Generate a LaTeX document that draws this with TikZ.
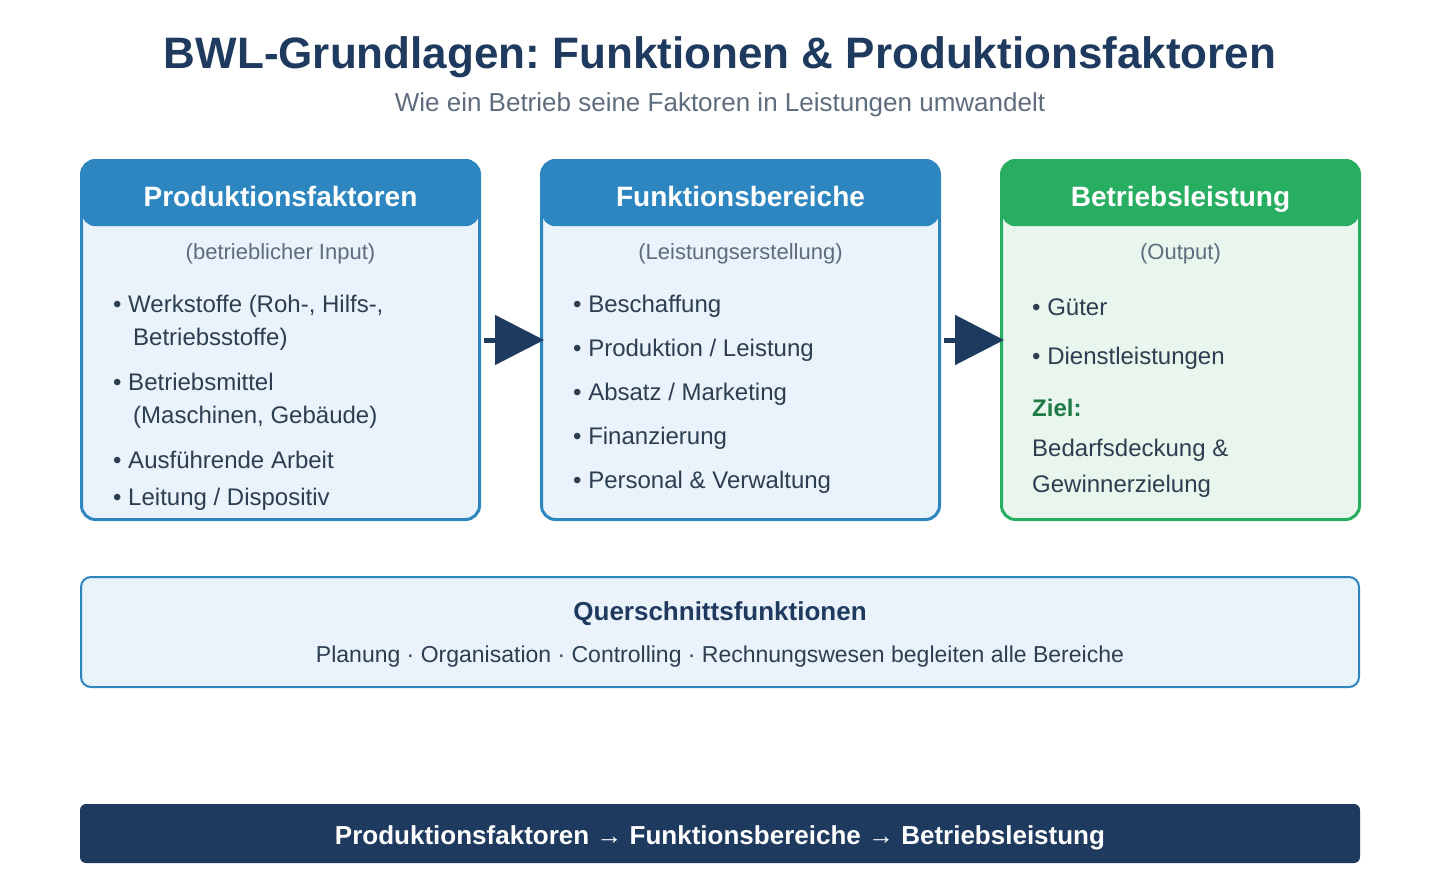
\documentclass[tikz,border=0pt]{standalone}
\usepackage{fontspec}
\setmainfont{Liberation Sans}
\usetikzlibrary{arrows.meta,positioning}
\definecolor{navy}{HTML}{1F3A5F}
\definecolor{cardblue}{HTML}{2E86C1}
\definecolor{paleblue}{HTML}{EAF2FB}
\definecolor{cardgreen}{HTML}{27AE60}
\definecolor{palegreen}{HTML}{E8F6EE}
\definecolor{zielgreen}{HTML}{1E7A45}
\definecolor{bodytext}{HTML}{2C3E50}
\definecolor{subgray}{HTML}{5D6D7E}
\frenchspacing

\begin{document}
\begin{tikzpicture}[
    x=1pt,y=-1pt,
    card/.style={rectangle,rounded corners=14pt,line width=3pt,inner sep=0pt,
                 minimum height=359pt},
    head/.style={rectangle,rounded corners=14pt,inner sep=0pt,minimum height=67pt,
                 anchor=north},
    htext/.style={anchor=base,inner sep=0pt,text=white,
                  font=\fontsize{28}{32}\selectfont\bfseries},
    tag/.style={anchor=base,inner sep=0pt,text=subgray,font=\fontsize{22}{26}\selectfont},
    item/.style={anchor=base west,inner sep=0pt,text=bodytext,
                 font=\fontsize{24}{28}\selectfont},
    flow/.style={-{Triangle[length=49pt,width=49pt]},line width=5pt,navy,
                 shorten <=3pt,shorten >=-4pt},
]
\useasboundingbox (0,0) rectangle (1440,880);

% title
\node[anchor=base,inner sep=0pt,text=navy,font=\fontsize{44}{50}\selectfont\bfseries]
  (title) at (720,68.5) {BWL-Grundlagen: Funktionen \& Produktionsfaktoren};
\node[anchor=base,inner sep=0pt,text=subgray,font=\fontsize{26}{30}\selectfont]
  (subtitle) at (720,112) {Wie ein Betrieb seine Faktoren in Leistungen umwandelt};

% the three cards
\node[card,draw=cardblue,fill=paleblue,minimum width=398pt] (pf) at (280.5,340) {};
\node[card,draw=cardblue,fill=paleblue,minimum width=398pt] (fb) at (740.5,340) {};
\node[card,draw=cardgreen,fill=palegreen,minimum width=358pt] (bl) at (1180.5,340) {};

\node[head,fill=cardblue,minimum width=398pt] (pfhead) at (pf.north) {};
\node[head,fill=cardblue,minimum width=398pt] (fbhead) at (fb.north) {};
\node[head,fill=cardgreen,minimum width=358pt] (blhead) at (bl.north) {};

\node[htext] (pftitle) at (280.5,206) {Produktionsfaktoren};
\node[htext] (fbtitle) at (740.5,206) {Funktionsbereiche};
\node[htext] (bltitle) at (1180.5,206) {Betriebsleistung};

\node[tag] (pftag) at (280.5,259) {(betrieblicher Input)};
\node[tag] (fbtag) at (740.5,259) {(Leistungserstellung)};
\node[tag] (bltag) at (1180.5,259) {(Output)};

% inputs
\node[item] (pf1) at (113,312.5) {• Werkstoffe (Roh-, Hilfs-,};
\node[item] (pf1b) at (133,345.5) {Betriebsstoffe)};
\node[item] (pf2) at (113,390.5) {• Betriebsmittel};
\node[item] (pf2b) at (133,423.5) {(Maschinen, Gebäude)};
\node[item] (pf3) at (113,468.5) {• Ausführende Arbeit};
\node[item] (pf4) at (113,505.5) {• Leitung / Dispositiv};

% functions
\foreach \txt [count=\i] in {Beschaffung,Produktion / Leistung,Absatz / Marketing,
                             Finanzierung,Personal \& Verwaltung}
  \node[item] (fb\i) at (573,268.5+44*\i) {• \txt};

% output
\node[item] (bl1) at (1032,315.5) {• Güter};
\node[item] (bl2) at (1032,364.5) {• Dienstleistungen};
\node[item,text=zielgreen,font=\fontsize{24}{28}\selectfont\bfseries] (ziel) at (1032,416.5) {Ziel:};
\node[item] (bl3) at (1032,456.5) {Bedarfsdeckung \&};
\node[item] (bl4) at (1032,492.5) {Gewinnerzielung};

\draw[flow] (pf.east) -- (fb.west);
\draw[flow] (fb.east) -- (bl.west);

% cross-sectional functions
\node[rectangle,rounded corners=10pt,draw=cardblue,line width=2pt,fill=paleblue,
      minimum width=1278pt,minimum height=110pt] (quer) at (720,632) {};
\node[anchor=base,inner sep=0pt,text=navy,font=\fontsize{26}{30}\selectfont\bfseries]
  (quertitle) at (720,620) {Querschnittsfunktionen};
\node[anchor=base,inner sep=0pt,text=bodytext,font=\fontsize{23}{27}\selectfont]
  (quertext) at (720,662) {Planung · Organisation · Controlling · Rechnungswesen begleiten alle Bereiche};

% summary bar
\node[rectangle,rounded corners=6pt,fill=navy,minimum width=1280pt,minimum height=59pt]
  (summary) at (720,833.5) {};
\node[anchor=base,inner sep=0pt,text=white,font=\fontsize{26}{30}\selectfont\bfseries]
  (summarytext) at (720,844) {Produktionsfaktoren → Funktionsbereiche → Betriebsleistung};

\end{tikzpicture}
\end{document}
